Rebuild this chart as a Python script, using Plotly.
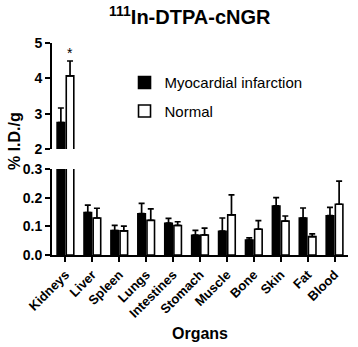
import plotly.graph_objects as go

organs = ["Kidneys", "Liver", "Spleen", "Lungs", "Intestines", "Stomach",
          "Muscle", "Bone", "Skin", "Fat", "Blood"]
mi_vals = [2.75, 0.148, 0.085, 0.144, 0.111, 0.069, 0.083, 0.052, 0.171, 0.129, 0.137]
mi_err = [0.41, 0.026, 0.018, 0.036, 0.017, 0.017, 0.046, 0.008, 0.029, 0.035, 0.029]
nl_vals = [4.07, 0.129, 0.084, 0.121, 0.103, 0.070, 0.140, 0.090, 0.118, 0.064, 0.177]
nl_err = [0.42, 0.034, 0.017, 0.040, 0.013, 0.024, 0.070, 0.030, 0.018, 0.010, 0.081]

FONT = "Arial, Liberation Sans, sans-serif"
W = 0.28
OFF_MI = -0.31
OFF_NL = 0.03

def err(a):
    return dict(type="data", symmetric=False, array=a, arrayminus=[0] * len(a),
                color="black", thickness=1.7, width=3)

fig = go.Figure()
# lower panel
fig.add_trace(go.Bar(x=organs, y=mi_vals, name="Myocardial infarction",
                     marker=dict(color="black", line=dict(color="black", width=1.6)),
                     width=W, offset=OFF_MI, error_y=err(mi_err),
                     xaxis="x", yaxis="y", legendgroup="a"))
fig.add_trace(go.Bar(x=organs, y=nl_vals, name="Normal",
                     marker=dict(color="white", line=dict(color="black", width=1.6)),
                     width=W, offset=OFF_NL, error_y=err(nl_err),
                     xaxis="x", yaxis="y", legendgroup="b"))
# upper panel (kidneys only reach it)
fig.add_trace(go.Bar(x=organs[:1], y=mi_vals[:1], showlegend=False,
                     marker=dict(color="black", line=dict(color="black", width=1.6)),
                     width=W, offset=OFF_MI, error_y=err(mi_err[:1]),
                     xaxis="x", yaxis="y2"))
fig.add_trace(go.Bar(x=organs[:1], y=nl_vals[:1], showlegend=False,
                     marker=dict(color="white", line=dict(color="black", width=1.6)),
                     width=W, offset=OFF_NL, error_y=err(nl_err[:1]),
                     xaxis="x", yaxis="y2"))

axis_font = dict(family=FONT, size=14, color="black", weight="bold")
PH = 212.0

fig.update_layout(
    width=358, height=347,
    margin=dict(l=52, r=10, t=43, b=92),
    paper_bgcolor="white", plot_bgcolor="white",
    barmode="overlay",
    font=dict(family=FONT, color="black"),
    showlegend=True,
    legend=dict(x=0.245, y=0.89, xanchor="left", yanchor="top",
                font=dict(family=FONT, size=15, color="black"),
                tracegroupgap=6, bgcolor="rgba(0,0,0,0)"),
    xaxis=dict(anchor="y", range=[-0.5, 10.5], showline=True, linecolor="black",
               linewidth=2, ticks="outside", ticklen=5, tickwidth=1.5,
               tickcolor="black", tickangle=-45, showgrid=False, zeroline=False,
               tickfont=dict(family=FONT, size=13, color="black", weight="bold")),
    yaxis=dict(domain=[0, 0.4057], range=[0, 0.3], tickvals=[0, 0.1, 0.2, 0.3],
               tickformat=".1f", showline=True, linecolor="black", linewidth=2,
               ticks="outside", ticklen=5, tickwidth=1.5, tickcolor="black",
               showgrid=False, zeroline=False, tickfont=axis_font),
    yaxis2=dict(domain=[0.5, 1], range=[2, 5], tickvals=[2, 3, 4, 5], anchor="x",
                showline=True, linecolor="black", linewidth=2,
                ticks="outside", ticklen=5, tickwidth=1.5, tickcolor="black",
                showgrid=False, zeroline=False, tickfont=axis_font),
    annotations=[
        dict(text="<b><sup>111</sup>In-DTPA-cNGR</b>", xref="paper", yref="paper",
             x=(190 - 52) / 296, y=(255 - 15) / PH, xanchor="center", yanchor="middle",
             showarrow=False, font=dict(family=FONT, size=20, color="black")),
        dict(text="<b>% I.D./g</b>", xref="paper", yref="paper", textangle=-90,
             x=(14 - 52) / 296, y=(255 - 141) / PH, xanchor="center", yanchor="middle",
             showarrow=False, font=dict(family=FONT, size=16, color="black")),
        dict(text="<b>Organs</b>", xref="paper", yref="paper",
             x=(200 - 52) / 296, y=(255 - 333) / PH, xanchor="center", yanchor="middle",
             showarrow=False, font=dict(family=FONT, size=16, color="black")),
        dict(text="*", xref="x", yref="y2", x="Kidneys", y=4.72, xshift=5,
             showarrow=False, font=dict(family=FONT, size=14, color="black")),
    ],
)

fig.write_html("out.html", config={"displayModeBar": False},
               post_script="document.body.style.margin='0';document.body.style.padding='0';")
